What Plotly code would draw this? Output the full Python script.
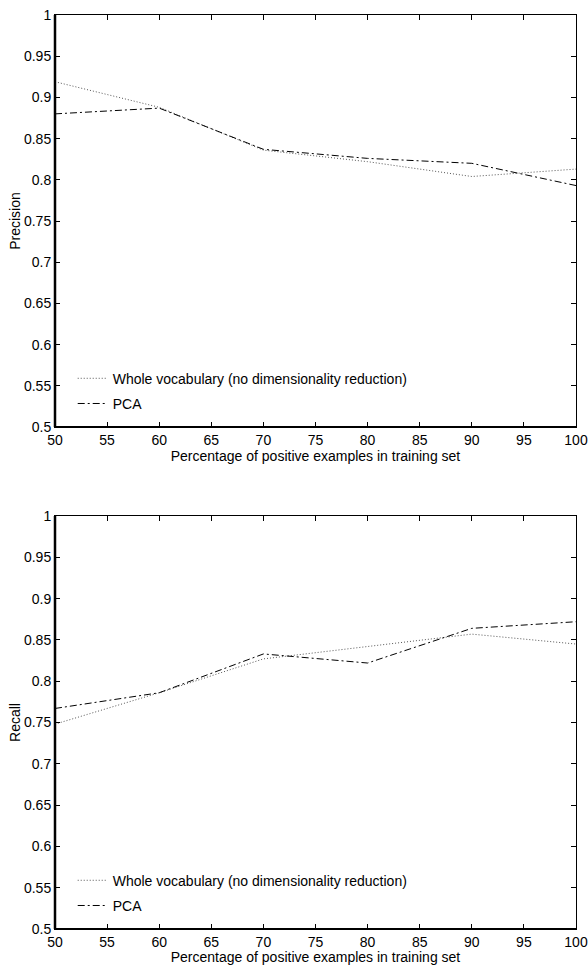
import plotly.graph_objects as go

x_pct = [50, 60, 70, 80, 90, 100]
prec_whole = [0.919, 0.888, 0.836, 0.822, 0.804, 0.813]
prec_pca = [0.880, 0.887, 0.837, 0.826, 0.820, 0.793]
rec_whole = [0.748, 0.786, 0.827, 0.842, 0.857, 0.845]
rec_pca = [0.767, 0.786, 0.833, 0.822, 0.864, 0.872]
x_ticks = [50, 55, 60, 65, 70, 75, 80, 85, 90, 95, 100]
y_ticks = [0.5, 0.55, 0.6, 0.65, 0.7, 0.75, 0.8, 0.85, 0.9, 0.95, 1]
y_ticktext = ["0.5", "0.55", "0.6", "0.65", "0.7", "0.75", "0.8", "0.85", "0.9", "0.95", "1"]
name_whole = "Whole vocabulary (no dimensionality reduction)"
name_pca = "PCA"

FONT = "Liberation Sans, Arial, sans-serif"
FS = 14
DOT = dict(color="#555555", width=1, dash="1px,2px")
DASHDOT = dict(color="black", width=1, dash="7px,3px,2px,3px")

fig = go.Figure()
fig.add_trace(go.Scatter(x=x_pct, y=prec_whole, mode="lines", name=name_whole, line=DOT,
                         xaxis="x", yaxis="y", legend="legend", legendgroup="w"))
fig.add_trace(go.Scatter(x=x_pct, y=prec_pca, mode="lines", name=name_pca, line=DASHDOT,
                         xaxis="x", yaxis="y", legend="legend", legendgroup="p"))
fig.add_trace(go.Scatter(x=x_pct, y=rec_whole, mode="lines", name=name_whole, line=DOT,
                         xaxis="x2", yaxis="y2", legend="legend2", legendgroup="w2"))
fig.add_trace(go.Scatter(x=x_pct, y=rec_pca, mode="lines", name=name_pca, line=DASHDOT,
                         xaxis="x2", yaxis="y2", legend="legend2", legendgroup="p2"))

H, W = 965, 588
mt, mb, ml, mr = 15, 36, 55, 12
ph = H - mt - mb
top_dom = [(929 - 427) / ph, 1.0]
bot_dom = [0.0, (929 - 516) / ph]

def xax(anchor):
    return dict(range=[50, 100], tickvals=x_ticks, ticks="inside", ticklen=5,
                tickwidth=1, tickcolor="black", showline=True, linecolor="black",
                linewidth=1, mirror="ticks", showgrid=False, zeroline=False,
                anchor=anchor, domain=[0, 1], automargin=True,
                tickfont=dict(family=FONT, size=FS, color="black"),
                title=dict(text="Percentage of positive examples in training set",
                           font=dict(family=FONT, size=FS, color="black"), standoff=1))

def yax(anchor, dom, title):
    return dict(range=[0.5, 1], tickvals=y_ticks, ticktext=y_ticktext, ticks="inside",
                ticklen=5, tickwidth=1, tickcolor="black", showline=True,
                linecolor="black", linewidth=1, mirror="ticks", showgrid=False,
                zeroline=False, anchor=anchor, domain=dom, automargin=True,
                tickfont=dict(family=FONT, size=FS, color="black"),
                title=dict(text=title, font=dict(family=FONT, size=FS, color="black"),
                           standoff=0))

leg_common = dict(font=dict(family=FONT, size=FS, color="black"), bgcolor="rgba(0,0,0,0)",
                  borderwidth=0, xanchor="left", yanchor="bottom", x=0.034,
                  tracegroupgap=4)

fig.update_layout(
    template="none",
    width=W, height=H, margin=dict(l=ml, r=mr, t=mt, b=mb, autoexpand=False),
    paper_bgcolor="white", plot_bgcolor="white",
    xaxis=xax("y"), yaxis=yax("x", top_dom, "Precision"),
    xaxis2=xax("y2"), yaxis2=yax("x2", bot_dom, "Recall"),
    legend=dict(**leg_common, y=top_dom[0] + 0.008),
    legend2=dict(**leg_common, y=bot_dom[0] + 0.008),
    showlegend=True,
)

# thicker left and bottom axis lines
for xr, yr in [("x domain", "y domain"), ("x2 domain", "y2 domain")]:
    fig.add_shape(type="line", xref=xr, yref=yr, x0=0, x1=0, y0=0, y1=1,
                  line=dict(color="black", width=2.5))
    fig.add_shape(type="line", xref=xr, yref=yr, x0=0, x1=1, y0=0, y1=0,
                  line=dict(color="black", width=2))

fig.write_html(
    "out.html",
    config={"displayModeBar": False},
    post_script="document.body.style.margin='0';document.body.style.padding='0';"
                "document.documentElement.style.overflow='hidden';"
                "document.body.style.overflow='hidden';",
)
